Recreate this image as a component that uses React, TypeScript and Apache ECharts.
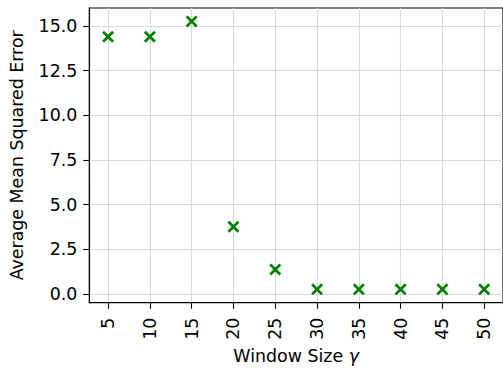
import React, { useEffect, useRef } from "react";
import * as echarts from "echarts";

const windowSizes = [5, 10, 15, 20, 25, 30, 35, 40, 45, 50];
const mseValues = [14.4, 14.4, 15.26, 3.76, 1.37, 0.26, 0.26, 0.26, 0.26, 0.26];
const yTicks = [0, 2.5, 5, 7.5, 10, 12.5, 15];
const xTicks = [5, 10, 15, 20, 25, 30, 35, 40, 45, 50];

const FONT = "DejaVu Sans";
const FS = 17.4;
const X_PATH =
  "path://M0,1.6L1.6,0L5,3.4L8.4,0L10,1.6L6.6,5L10,8.4L8.4,10L5,6.6L1.6,10L0,8.4L3.4,5Z";

export default function App() {
  const ref = useRef<HTMLDivElement>(null);
  useEffect(() => {
    if (!ref.current) return;
    const chart = echarts.init(ref.current, undefined, { renderer: "svg" });
    chart.setOption({
      animation: false,
      backgroundColor: "#ffffff",
      grid: {
        left: 89.3,
        top: 8,
        width: 416.3,
        height: 294.7,
        show: true,
        borderColor: "#000",
        borderWidth: 1.1,
        backgroundColor: "transparent",
      },
      xAxis: {
        type: "value",
        min: 2.75,
        max: 52.25,
        name: "Window Size {i|γ}",
        nameLocation: "middle",
        nameGap: 42,
        nameTextStyle: {
          fontFamily: FONT,
          fontSize: FS,
          color: "#000",
          rich: { i: { fontFamily: FONT, fontStyle: "italic", fontSize: FS, color: "#000" } },
        },
        axisLine: { show: true, onZero: false, lineStyle: { color: "#000", width: 1.1 } },
        axisTick: {
          show: true,
          customValues: xTicks,
          length: 6,
          lineStyle: { color: "#000", width: 1.1 },
        },
        axisLabel: {
          customValues: xTicks,
          rotate: 90,
          margin: 15,
          fontFamily: FONT,
          fontSize: FS,
          color: "#000",
          formatter: (v: number) => String(v),
        },
        splitLine: { show: true, lineStyle: { color: "#d9d9d9", width: 1.1 } },
      },
      yAxis: {
        type: "value",
        min: -0.49,
        max: 16.01,
        name: "Average Mean Squared Error",
        nameLocation: "middle",
        nameGap: 64,
        nameTextStyle: { fontFamily: FONT, fontSize: FS, color: "#000" },
        axisLine: { show: true, onZero: false, lineStyle: { color: "#000", width: 1.1 } },
        axisTick: {
          show: true,
          customValues: yTicks,
          length: 6,
          lineStyle: { color: "#000", width: 1.1 },
        },
        axisLabel: {
          customValues: yTicks,
          margin: 12,
          fontFamily: FONT,
          fontSize: FS,
          color: "#000",
          formatter: (v: number) => v.toFixed(1),
        },
        splitLine: { show: true, lineStyle: { color: "#d9d9d9", width: 1.1 } },
      },
      series: [
        {
          type: "scatter",
          data: windowSizes.map((x, i) => [x, mseValues[i]]),
          symbol: X_PATH,
          symbolSize: 12,
          itemStyle: { color: "#008000", opacity: 1 },
          z: 5,
        },
      ],
    });
    return () => chart.dispose();
  }, []);
  return (
    <div
      ref={ref}
      style={{ position: "fixed", left: 0, top: 0, width: 503, height: 371, background: "#fff" }}
    />
  );
}
